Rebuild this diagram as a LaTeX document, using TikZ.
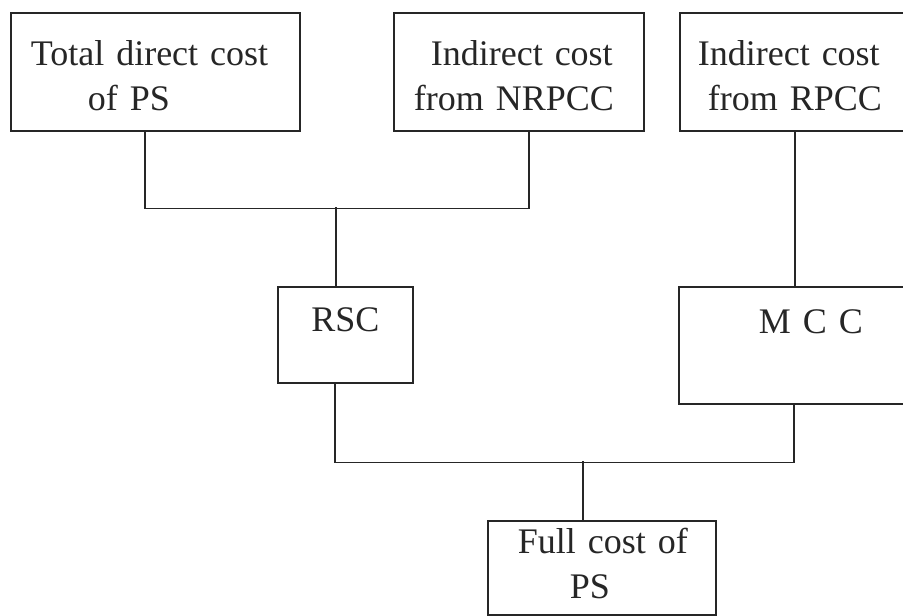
\documentclass[tikz,border=0pt]{standalone}
\usepackage{fontspec}
\setmainfont{Liberation Serif}
\begin{document}
\begin{tikzpicture}[x=1pt,y=-1pt,
  box/.style={draw=black!85, line width=1.6pt, rectangle, inner sep=0pt,
    anchor=north west, align=left, font=\fontsize{36}{45}\selectfont, text=black!85},
  conn/.style={draw=black!85, line width=1.6pt}]
\useasboundingbox (0,0) rectangle (903,616);
% top row
\node[box, text width=289pt, text height=53pt, text depth=65pt] (tdc) at (10,12)
  {\hspace*{20pt}Total direct cost\\\hspace*{77pt}of PS};
\node[box, text width=250pt, text height=53pt, text depth=65pt] (nrp) at (393,12)
  {\hspace*{37pt}Indirect cost\\\hspace*{20pt}from NRPCC};
\node[box, text width=230pt, text height=53pt, text depth=65pt] (rpc) at (679,12)
  {\hspace*{18pt}Indirect cost\\\hspace*{28pt}from RPCC};
% middle row
\node[box, align=center, text width=135pt, text height=45pt, text depth=51pt] (rsc) at (277,286)
  {RSC};
\node[box, text width=230pt, text height=47pt, text depth=70pt] (mcc) at (678,286)
  {\hspace*{80pt}M C C};
% bottom
\node[box, text width=228pt, text height=33pt, text depth=61pt] (full) at (487,520)
  {\hspace*{30pt}Full cost of\\\hspace*{82pt}PS};
% connectors
\draw[conn] ([xshift=-10.5pt]tdc.south) -- ++(0,77) -| ([xshift=10pt]nrp.south);
\coordinate (j1) at (336,207);
\draw[conn] (j1) -- (j1 |- rsc.north);
\draw[conn] (rpc.south) -- (rpc.south |- mcc.north);
\draw[conn] ([xshift=-10.5pt]rsc.south) -- ++(0,79) -| (mcc.south);
\coordinate (j2) at (583,461);
\draw[conn] (j2) -- (j2 |- full.north);
\end{tikzpicture}
\end{document}
